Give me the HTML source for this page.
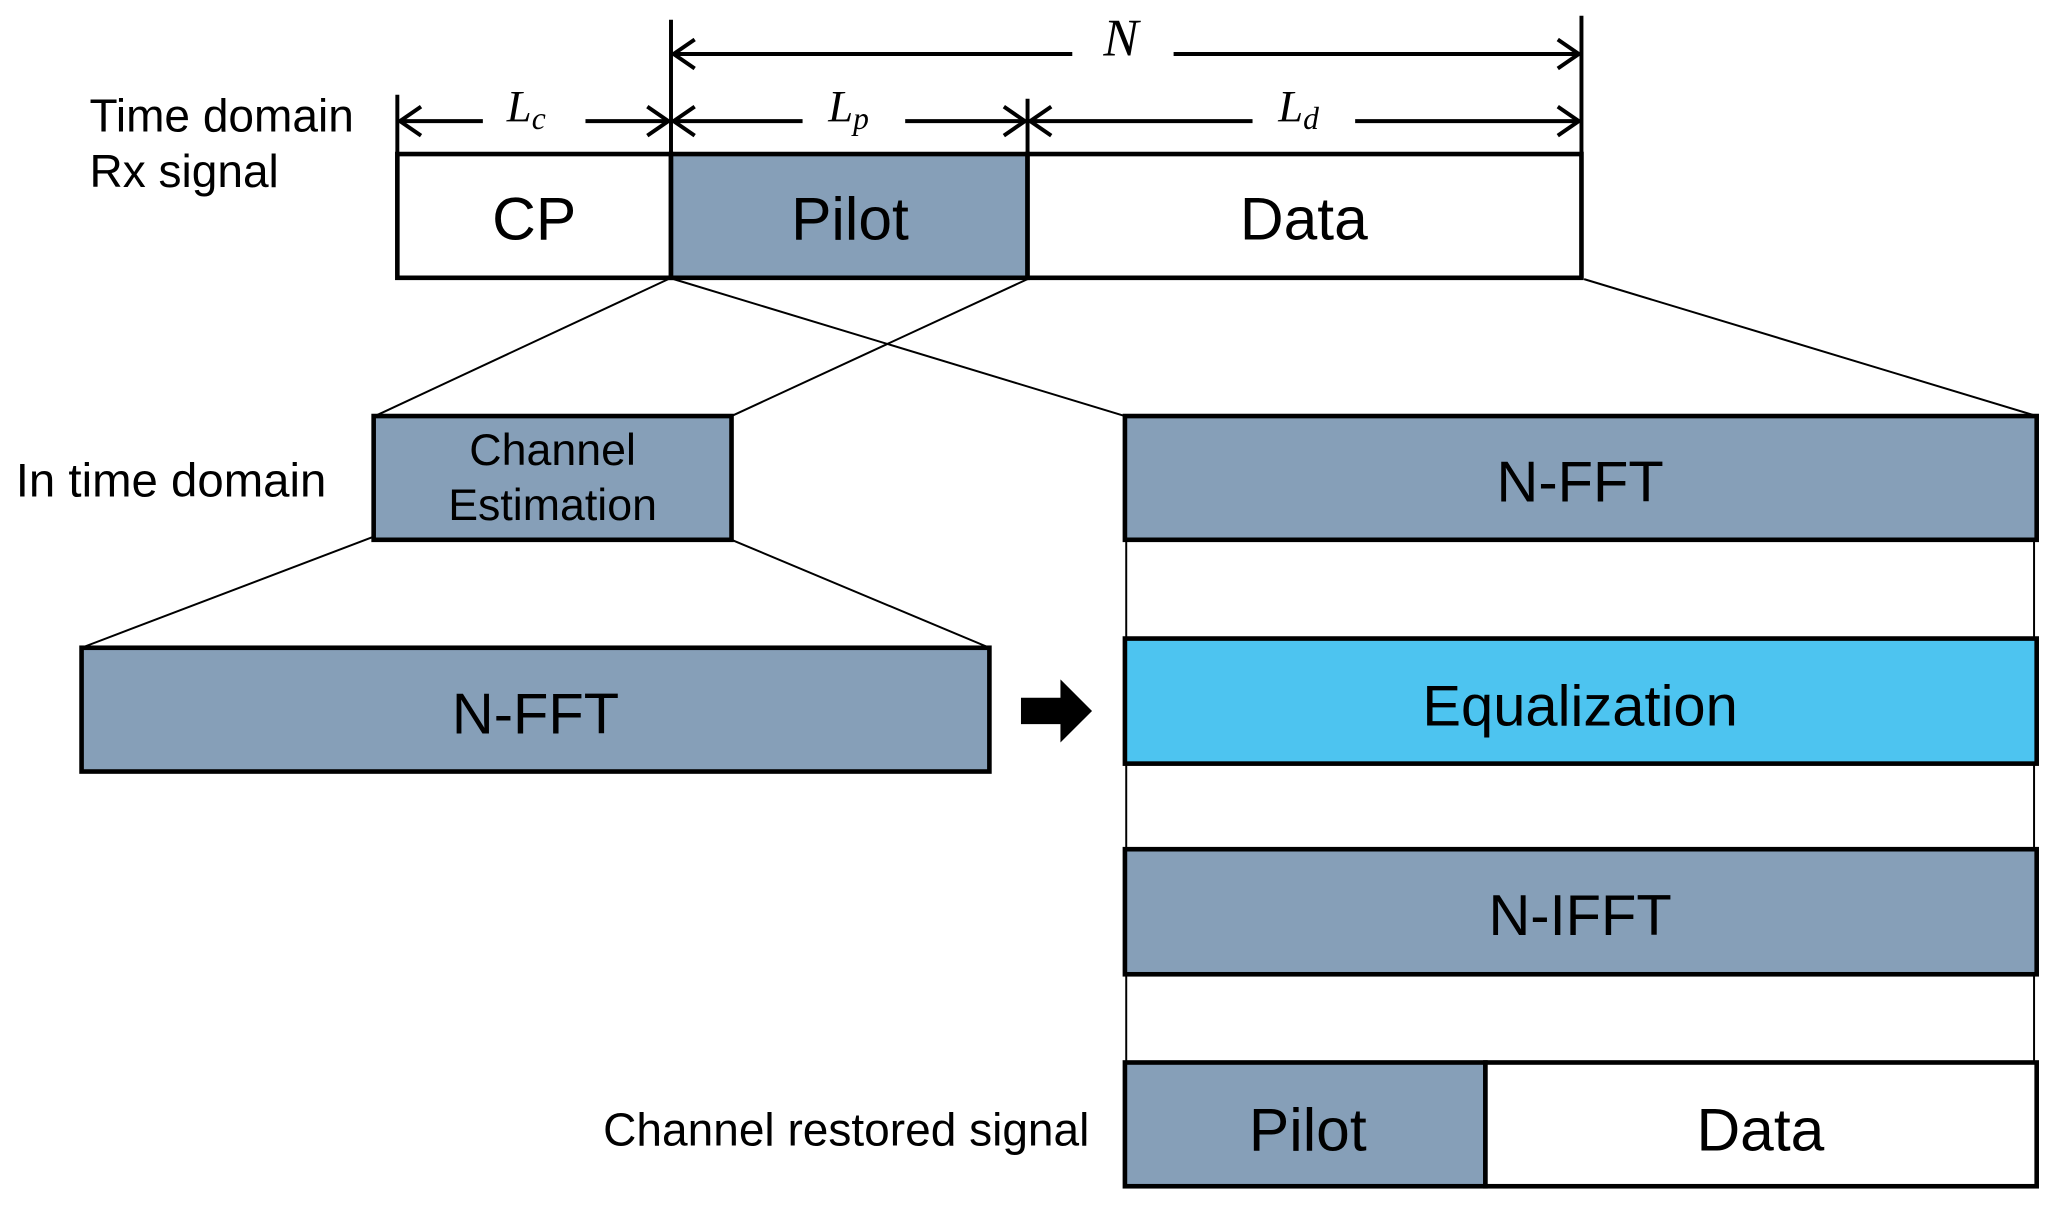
<!DOCTYPE html>
<html><head><meta charset="utf-8"><style>
html,body{margin:0;padding:0;background:#fff;}
svg{display:block;}
text{font-family:"Liberation Sans",sans-serif;fill:#000;}
.m{font-family:"Liberation Serif",serif;font-style:italic;}
</style></head><body>
<svg width="2063" height="1206" viewBox="0 0 1568 916" preserveAspectRatio="none" xmlns="http://www.w3.org/2000/svg">
<g stroke="#000" fill="none">
<line x1="510" y1="15" x2="510" y2="117" stroke-width="3"/>
<line x1="1202" y1="12" x2="1202" y2="117" stroke-width="3"/>
<line x1="302" y1="72" x2="302" y2="117" stroke-width="3"/>
<line x1="781" y1="75" x2="781" y2="117" stroke-width="3"/>
<line x1="512" y1="41" x2="815" y2="41" stroke-width="3"/>
<line x1="892" y1="41" x2="1200" y2="41" stroke-width="3"/>
<polyline points="528,30 512,41 528,52" stroke-width="3"/>
<polyline points="1184,30 1200,41 1184,52" stroke-width="3"/>
<line x1="304" y1="92" x2="367" y2="92" stroke-width="3"/>
<line x1="445" y1="92" x2="508" y2="92" stroke-width="3"/>
<polyline points="320,81 304,92 320,103" stroke-width="3"/>
<polyline points="492,81 508,92 492,103" stroke-width="3"/>
<line x1="512" y1="92" x2="610" y2="92" stroke-width="3"/>
<line x1="688" y1="92" x2="779" y2="92" stroke-width="3"/>
<polyline points="528,81 512,92 528,103" stroke-width="3"/>
<polyline points="763,81 779,92 763,103" stroke-width="3"/>
<line x1="783" y1="92" x2="952" y2="92" stroke-width="3"/>
<line x1="1030" y1="92" x2="1200" y2="92" stroke-width="3"/>
<polyline points="799,81 783,92 799,103" stroke-width="3"/>
<polyline points="1184,81 1200,92 1184,103" stroke-width="3"/>
<rect x="302" y="117" width="208" height="94" fill="#fff" stroke-width="3.5"/>
<rect x="510" y="117" width="271" height="94" fill="#869fb8" stroke-width="3.5"/>
<rect x="781" y="117" width="421" height="94" fill="#fff" stroke-width="3.5"/>
<line x1="508" y1="212" x2="285" y2="316" stroke-width="1.5"/>
<line x1="781" y1="212" x2="556" y2="316" stroke-width="1.5"/>
<line x1="512" y1="212" x2="855" y2="316" stroke-width="1.5"/>
<line x1="1204" y1="212" x2="1548" y2="316" stroke-width="1.5"/>
<line x1="283" y1="408" x2="62" y2="492" stroke-width="1.5"/>
<line x1="556" y1="410" x2="752" y2="492" stroke-width="1.5"/>
<line x1="856" y1="410" x2="856" y2="807" stroke-width="1.5"/>
<line x1="1546" y1="410" x2="1546" y2="807" stroke-width="1.5"/>
<rect x="284" y="316" width="272" height="94" fill="#869fb8" stroke-width="3.5"/>
<rect x="62" y="492" width="690" height="94" fill="#869fb8" stroke-width="3.5"/>
<rect x="855" y="316" width="693" height="94" fill="#869fb8" stroke-width="3.5"/>
<rect x="855" y="485" width="693" height="95" fill="#4dc4f0" stroke-width="3.5"/>
<rect x="855" y="645" width="693" height="95" fill="#869fb8" stroke-width="3.5"/>
<rect x="855" y="807" width="274" height="94" fill="#869fb8" stroke-width="3.5"/>
<rect x="1129" y="807" width="419" height="94" fill="#fff" stroke-width="3.5"/>
</g>
<polygon points="776,530 806,530 806,516 830,540 806,564 806,550 776,550" fill="#000"/>
<text class="m" x="852" y="42" font-size="40" text-anchor="middle">N</text>
<text class="m" x="400" y="92" font-size="34" text-anchor="middle">L<tspan font-size="24" dy="6">c</tspan></text>
<text class="m" x="645" y="92" font-size="34" text-anchor="middle">L<tspan font-size="24" dy="6">p</tspan></text>
<text class="m" x="987" y="92" font-size="34" text-anchor="middle">L<tspan font-size="24" dy="6">d</tspan></text>
<text x="68" y="100" font-size="35">Time domain</text>
<text x="68" y="142" font-size="35">Rx signal</text>
<text x="406" y="182" font-size="46" text-anchor="middle">CP</text>
<text x="646" y="182" font-size="46" text-anchor="middle">Pilot</text>
<text x="991" y="182" font-size="46" text-anchor="middle">Data</text>
<text x="420" y="353" font-size="34" text-anchor="middle">Channel</text>
<text x="420" y="395" font-size="34" text-anchor="middle">Estimation</text>
<text x="12" y="377" font-size="36">In time domain</text>
<text x="407" y="557" font-size="44" text-anchor="middle">N-FFT</text>
<text x="1201" y="381" font-size="44" text-anchor="middle">N-FFT</text>
<text x="1201" y="551" font-size="44" text-anchor="middle">Equalization</text>
<text x="1201" y="710" font-size="44" text-anchor="middle">N-IFFT</text>
<text x="994" y="874" font-size="46" text-anchor="middle">Pilot</text>
<text x="1338" y="874" font-size="46" text-anchor="middle">Data</text>
<text x="828" y="870" font-size="35" text-anchor="end">Channel restored signal</text>
</svg>
</body></html>
